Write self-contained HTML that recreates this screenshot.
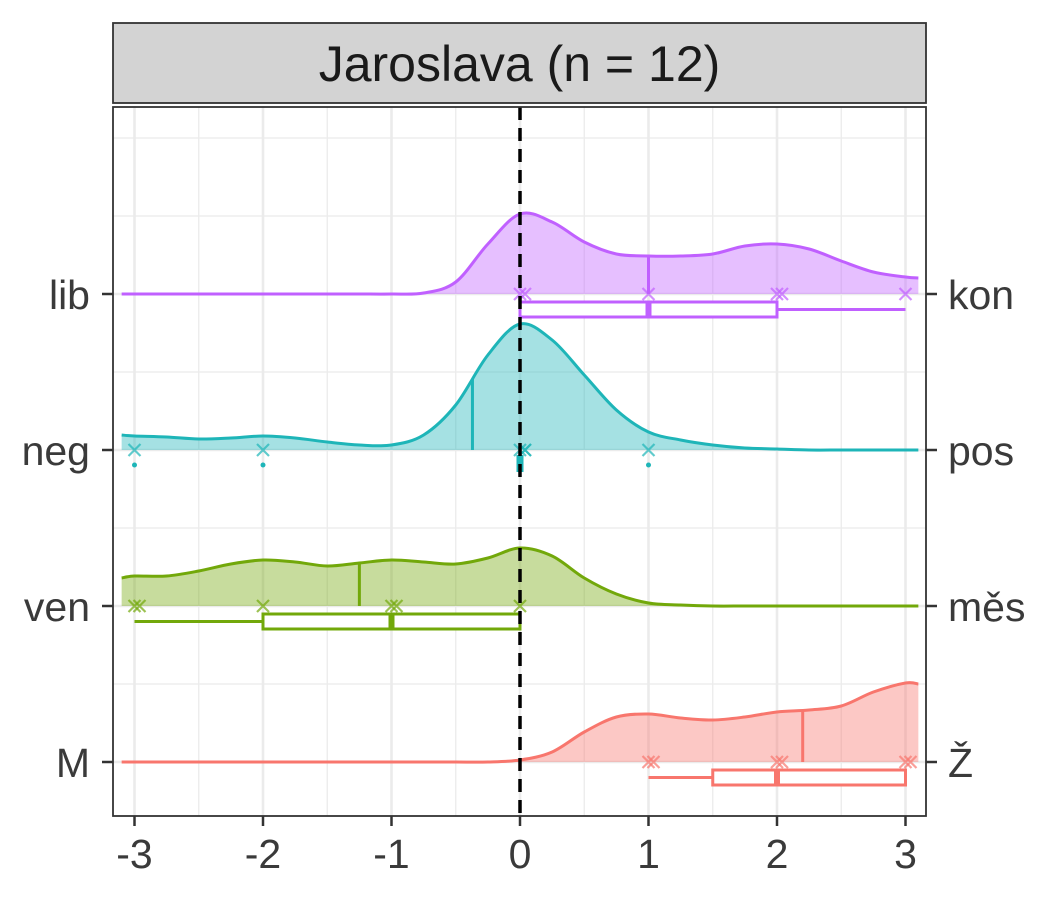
<!DOCTYPE html>
<html><head><meta charset="utf-8"><style>
body{margin:0;background:#fff;}
svg text{font-family:"Liberation Sans",sans-serif;}
</style></head><body>
<svg id="chart" width="1050" height="900" xmlns="http://www.w3.org/2000/svg"></svg>
<script>
const xs = [-3.1,-3,-2.75,-2.5,-2.25,-2,-1.75,-1.5,-1.25,-1,-0.75,-0.5,-0.25,0,0.25,0.5,0.75,1,1.25,1.5,1.75,2,2.25,2.5,2.75,3,3.1];
const libDens = [0,0,0,0,0,0,0,0,0,0,1,12,50,80,72,52,40,38,38,40,48,50,45,33,22,17,16];
const negDens = [15,14,13,11,12,14,12,8,5,5,15,45,95,126,110,75,40,18,10,5,2,1,0,0,0,0,0];
const venDens = [28,30,30,35,42,46,44,40,43,46,44,42,48,58,50,28,12,3,1,0,0,0,0,0,0,0,0];
const mDens = [0,0,0,0,0,0,0,0,0,0,0,0,0,2,10,30,45,48,44,42,45,50,52,56,70,79,78];
const rowsLeft = ["M","ven","neg","lib"];
const rowsRight = ["Ž","měs","pos","kon"];
const libPts = [0,0,1,2,2,3];
const negPts = [-3,-2,0,0,0,1];
const venPts = [-3,-3,-2,-1,-1,0];
const mPts = [1,1,2,2,3,3];
const libMedian = 1, negMedian = -0.37, venMedian = -1.25, mMedian = 2.2;
// boxes: [whiskerLow, q1, median, q3, whiskerHigh]
const libBox = [0,0,1,2,3];
const venBox = [-3,-2,-1,0,0];
const mBox = [1,1.5,2,3,3];
const negOutliers = [-3,-2,1];
const xTicks = [-3,-2,-1,0,1,2,3];

const svg = document.getElementById('chart');
const NS = 'http://www.w3.org/2000/svg';
const X = v => 520 + 128.5*v;
const Y = i => 762 - 156*i;
const L=113,R=926,T=107,B=816;
function mk(tag, attrs, name, parent){
  const e=document.createElementNS(NS,tag);
  for(const k in attrs) e.setAttribute(k,attrs[k]);
  
  
  (parent||svg).appendChild(e); return e;
}
mk('rect',{x:L,y:T,width:R-L,height:B-T,fill:'#fff'},'panel-background');
for(let v=-3;v<=3.01;v+=0.5){
  const major = Math.abs(v-Math.round(v))<1e-6;
  mk('line',{x1:X(v),x2:X(v),y1:T,y2:B,stroke:'#ebebeb','stroke-width':major?2.6:1.3},'x-grid-line');
}
[138,216,372,528,684].forEach(y=>mk('line',{x1:L,x2:R,y1:y,y2:y,stroke:'#ebebeb','stroke-width':1.3},'y-grid-minor'));
[0,1,2,3].forEach(i=>mk('line',{x1:L,x2:R,y1:Y(i),y2:Y(i),stroke:'#ebebeb','stroke-width':2.6},'y-grid-major'));

function smoothPath(pts){
  let d='M'+pts[0][0]+','+pts[0][1];
  for(let i=0;i<pts.length-1;i++){
    const p0=pts[Math.max(0,i-1)],p1=pts[i],p2=pts[i+1],p3=pts[Math.min(pts.length-1,i+2)];
    const c1=[p1[0]+(p2[0]-p0[0])/6,p1[1]+(p2[1]-p0[1])/6];
    const c2=[p2[0]-(p3[0]-p1[0])/6,p2[1]-(p3[1]-p1[1])/6];
    d+=' C'+c1[0]+','+c1[1]+' '+c2[0]+','+c2[1]+' '+p2[0]+','+p2[1];
  }
  return d;
}
const series=[
  {name:'m',dens:mDens,pts:mPts,med:mMedian,box:mBox,col:'#F8766D',row:0},
  {name:'ven',dens:venDens,pts:venPts,med:venMedian,box:venBox,col:'#72A80A',row:1},
  {name:'neg',dens:negDens,pts:negPts,med:negMedian,box:null,col:'#1EB5B8',row:2},
  {name:'lib',dens:libDens,pts:libPts,med:libMedian,box:libBox,col:'#C060FF',row:3}
];
function densAt(dens,v){
  for(let i=0;i<xs.length-1;i++) if(v>=xs[i]&&v<=xs[i+1]){const t=(v-xs[i])/(xs[i+1]-xs[i]);return dens[i]+(dens[i+1]-dens[i])*t;}
  return 0;
}
series.forEach(s=>{
  const by=Y(s.row);
  const pts=xs.map((v,i)=>[X(v),by-s.dens[i]]);
  const line=smoothPath(pts);
  mk('path',{d:line+' L'+X(xs[xs.length-1])+','+by+' L'+X(xs[0])+','+by+' Z',fill:s.col,'fill-opacity':0.4,stroke:'none'},s.name+'-density-fill');
  mk('path',{d:line,fill:'none',stroke:s.col,'stroke-width':3},s.name+'-density-line');
  mk('line',{x1:X(s.med),x2:X(s.med),y1:by,y2:by-densAt(s.dens,s.med),stroke:s.col,'stroke-width':3},s.name+'-median-line');
  s.pts.forEach((v,k)=>{
    const cx=X(v)+(k>0&&s.pts[k-1]===v?5:0);
    mk('path',{d:`M${cx-6},${by-6}L${cx+6},${by+6}M${cx-6},${by+6}L${cx+6},${by-6}`,stroke:s.col,'stroke-opacity':0.7,'stroke-width':2.2},s.name+'-point');
  });
  if(s.box){
    const y1=by+8,y2=by+23,ym=by+15.5;
    const b=s.box;
    mk('line',{x1:X(b[0]),x2:X(b[1]),y1:ym,y2:ym,stroke:s.col,'stroke-width':3},s.name+'-whisker-low');
    mk('line',{x1:X(b[3]),x2:X(b[4]),y1:ym,y2:ym,stroke:s.col,'stroke-width':3},s.name+'-whisker-high');
    mk('rect',{x:X(b[1]),y:y1,width:X(b[3])-X(b[1]),height:y2-y1,fill:'#fff',stroke:s.col,'stroke-width':3},s.name+'-box');
    mk('line',{x1:X(b[2]),x2:X(b[2]),y1:y1,y2:y2,stroke:s.col,'stroke-width':6},s.name+'-box-median');
  }
});
{const by=Y(2);
 mk('line',{x1:X(0),x2:X(0),y1:by+5,y2:by+22,stroke:'#1EB5B8','stroke-width':7},'neg-box');
 negOutliers.forEach(v=>mk('circle',{cx:X(v),cy:by+15,r:2.5,fill:'#1EB5B8'},'neg-outlier'));}
mk('line',{x1:X(0),x2:X(0),y1:T,y2:B,stroke:'#000','stroke-width':3.5,'stroke-dasharray':'13,8'},'zero-reference-line');
mk('rect',{x:L,y:T,width:R-L,height:B-T,fill:'none',stroke:'#333','stroke-width':1.8},'panel-border');
mk('rect',{x:L,y:23,width:R-L,height:80,fill:'#d3d3d3',stroke:'#333','stroke-width':1.8},'facet-strip');
const st=mk('text',{x:(L+R)/2,y:81,'text-anchor':'middle','font-size':50,fill:'#1a1a1a'},'facet-title');st.textContent='Jaroslava (n = 12)';
xTicks.forEach(v=>{
  mk('line',{x1:X(v),x2:X(v),y1:B,y2:B+10,stroke:'#333','stroke-width':2.5},'x-tick');
  const t=mk('text',{x:X(v),y:868,'text-anchor':'middle','font-size':41,fill:'#3a3a3a'},'x-tick-label');t.textContent=v;
});
rowsLeft.forEach((lab,i)=>{
  mk('line',{x1:L-11,x2:L,y1:Y(i),y2:Y(i),stroke:'#333','stroke-width':2.5},'y-tick-left');
  const t=mk('text',{x:L-23,y:Y(i)+15,'text-anchor':'end','font-size':41,fill:'#3a3a3a'},'y-label-left');t.textContent=lab;
});
rowsRight.forEach((lab,i)=>{
  mk('line',{x1:R,x2:R+11,y1:Y(i),y2:Y(i),stroke:'#333','stroke-width':2.5},'y-tick-right');
  const t=mk('text',{x:R+22,y:Y(i)+15,'text-anchor':'start','font-size':41,fill:'#3a3a3a'},'y-label-right');t.textContent=lab;
});
</script>
</body></html>
